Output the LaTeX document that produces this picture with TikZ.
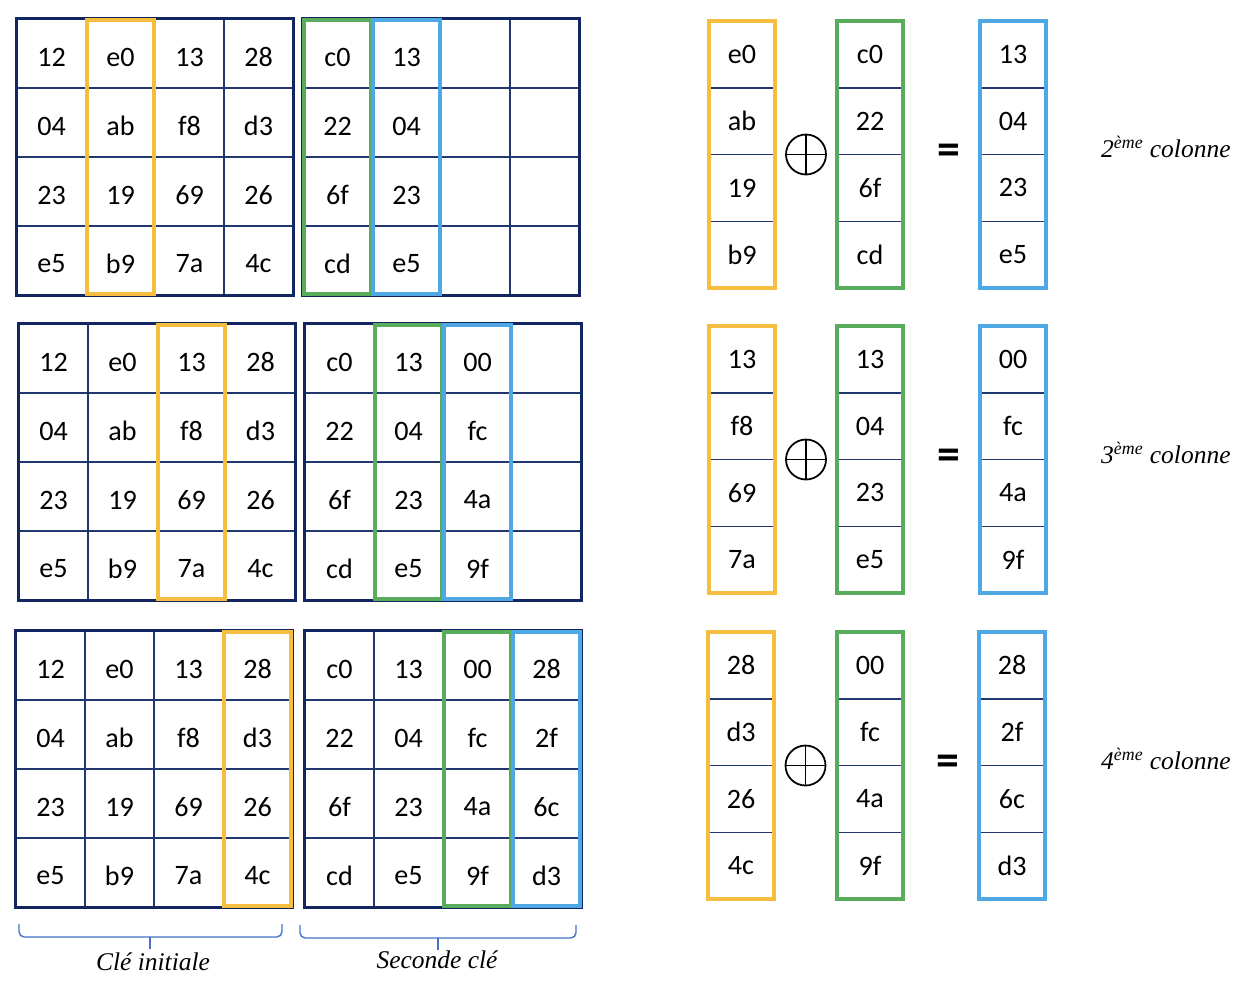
\documentclass[tikz,border=0pt]{standalone}
\usepackage{fontspec}
\setmainfont{Liberation Serif}
\newfontfamily\cellfont{Carlito}
\usetikzlibrary{positioning, calc, fit}
\definecolor{gridNavy}{RGB}{32, 56, 110}
\definecolor{borderNavy}{RGB}{18, 38, 98}
\definecolor{keyYellow}{RGB}{245, 190, 65}
\definecolor{keyGreen}{RGB}{88, 172, 92}
\definecolor{keyBlue}{RGB}{78, 168, 228}
\definecolor{braceBlue}{RGB}{68, 114, 196}

% 4x4 key grid: name, left x, top y, filled columns
\newcommand{\keygrid}[4]{%
  \foreach \ci in {1,...,4}
    \foreach \ri in {1,...,4}
      \node[cell] (#1-\ci-\ri) at ({#2+(\ci-0.5)*69},{#3+(\ri-0.5)*69}) {};
  \foreach \col [count=\ci] in {#4}
    \foreach \v [count=\ri] in \col
      \node[celltext] at (#1-\ci-\ri) {\v};
  \draw[gridborder] (#1-1-1.north west) rectangle (#1-4-4.south east);
}
% single column: name, centre x, top y, colour, values
\newcommand{\colstack}[5]{%
  \foreach \v [count=\ri] in {#5}
    \node[stackcell] (#1-\ri) at (#2,{#3+(\ri-0.5)*66.75}) {\v};
  \foreach \ri in {1,2,3}
    \draw[divider] (#1-\ri.south west) -- (#1-\ri.south east);
  \node[colbox=#4, fit=(#1-1)(#1-4), inner sep=0pt] (#1) {};
}

\begin{document}
\begin{tikzpicture}[
    x=0.02cm, y=-0.02cm,
    cell/.style={draw=gridNavy, line width=0.6pt, minimum width=1.38cm, minimum height=1.38cm, inner sep=0pt},
    celltext/.style={font=\cellfont\fontsize{16}{19}\selectfont, text=black, yshift=-2pt},
    gridborder/.style={draw=borderNavy, line width=1.8pt},
    colbox/.style={draw=#1, line width=2.3pt, inner sep=-0.9pt},
    stackcell/.style={minimum width=1.32cm, minimum height=1.335cm, inner sep=0pt, font=\cellfont\fontsize{16}{19}\selectfont},
    divider/.style={draw=gridNavy, line width=0.7pt},
    xorsym/.style={circle, draw=black, line width=1pt, minimum size=0.8cm, inner sep=0pt,
      path picture={\draw[line width=1pt] (path picture bounding box.north) -- (path picture bounding box.south)
        (path picture bounding box.west) -- (path picture bounding box.east);}},
    equal/.style={font=\cellfont\bfseries\fontsize{26}{26}\selectfont},
    colname/.style={font=\itshape\fontsize{14.5}{17}\selectfont},
    keybrace/.style={draw=braceBlue, line width=0.8pt, rounded corners=3pt}
]
    \useasboundingbox (0,0) rectangle (1256,998);

    % Row 1: second column
    \keygrid{ka1}{17}{19}{{12,04,23,e5},{e0,ab,19,b9},{13,f8,69,7a},{28,d3,26,4c}}
    \keygrid{kb1}{303}{19}{{c0,22,6f,cd},{13,04,23,e5}}
    \node[colbox=keyYellow, fit=(ka1-2-1)(ka1-2-4)] (ka1-sel) {};
    \node[colbox=keyGreen, fit=(kb1-1-1)(kb1-1-4)] (kb1-old) {};
    \node[colbox=keyBlue, fit=(kb1-2-1)(kb1-2-4)] (kb1-new) {};

    \colstack{y1}{742}{21}{keyYellow}{e0,ab,19,b9}
    \colstack{g1}{870}{21}{keyGreen}{c0,22,6f,cd}
    \colstack{b1}{1013}{21}{keyBlue}{13,04,23,e5}
    \node[xorsym] (xor1) at ($(y1.east)!0.5!(g1.west)$) {};
    \node[equal] (eq1) at ($(g1.east)!0.6!(b1.west)$) {=};
    \node[colname, anchor=west] (name1) at (1095,147) {2\textsuperscript{ème} colonne};

    % Row 2: third column
    \keygrid{ka2}{19}{324}{{12,04,23,e5},{e0,ab,19,b9},{13,f8,69,7a},{28,d3,26,4c}}
    \keygrid{kb2}{305}{324}{{c0,22,6f,cd},{13,04,23,e5},{00,fc,4a,9f}}
    \node[colbox=keyYellow, fit=(ka2-3-1)(ka2-3-4)] (ka2-sel) {};
    \node[colbox=keyGreen, fit=(kb2-2-1)(kb2-2-4)] (kb2-old) {};
    \node[colbox=keyBlue, fit=(kb2-3-1)(kb2-3-4)] (kb2-new) {};

    \colstack{y2}{742}{326}{keyYellow}{13,f8,69,7a}
    \colstack{g2}{870}{326}{keyGreen}{13,04,23,e5}
    \colstack{b2}{1013}{326}{keyBlue}{00,fc,4a,9f}
    \node[xorsym] (xor2) at ($(y2.east)!0.5!(g2.west)$) {};
    \node[equal] (eq2) at ($(g2.east)!0.6!(b2.west)$) {=};
    \node[colname, anchor=west] (name2) at (1095,453) {3\textsuperscript{ème} colonne};

    % Row 3: fourth column
    \keygrid{ka3}{16}{631}{{12,04,23,e5},{e0,ab,19,b9},{13,f8,69,7a},{28,d3,26,4c}}
    \keygrid{kb3}{305}{631}{{c0,22,6f,cd},{13,04,23,e5},{00,fc,4a,9f},{28,2f,6c,d3}}
    \node[colbox=keyYellow, fit=(ka3-4-1)(ka3-4-4)] (ka3-sel) {};
    \node[colbox=keyGreen, fit=(kb3-3-1)(kb3-3-4)] (kb3-old) {};
    \node[colbox=keyBlue, fit=(kb3-4-1)(kb3-4-4)] (kb3-new) {};

    \colstack{y3}{741}{632}{keyYellow}{28,d3,26,4c}
    \colstack{g3}{870}{632}{keyGreen}{00,fc,4a,9f}
    \colstack{b3}{1012}{632}{keyBlue}{28,2f,6c,d3}
    \node[xorsym] (xor3) at ($(y3.east)!0.5!(g3.west)$) {};
    \node[equal] (eq3) at ($(g3.east)!0.6!(b3.west)$) {=};
    \node[colname, anchor=west] (name3) at (1095,759) {4\textsuperscript{ème} colonne};

    % Braces under the last row
    \coordinate (kiTip) at (150,937);
    \coordinate (skTip) at (438,938);
    \draw[keybrace] (19,924) |- (kiTip) -| (282,924);
    \draw[keybrace] (kiTip) -- ++(0,12);
    \draw[keybrace] (300,925) |- (skTip) -| (576,925);
    \draw[keybrace] (skTip) -- ++(0,12);
    \node[colname] (lblInit) at (153,962) {Clé initiale};
    \node[colname] (lblSecond) at (437,960) {Seconde clé};
\end{tikzpicture}
\end{document}
